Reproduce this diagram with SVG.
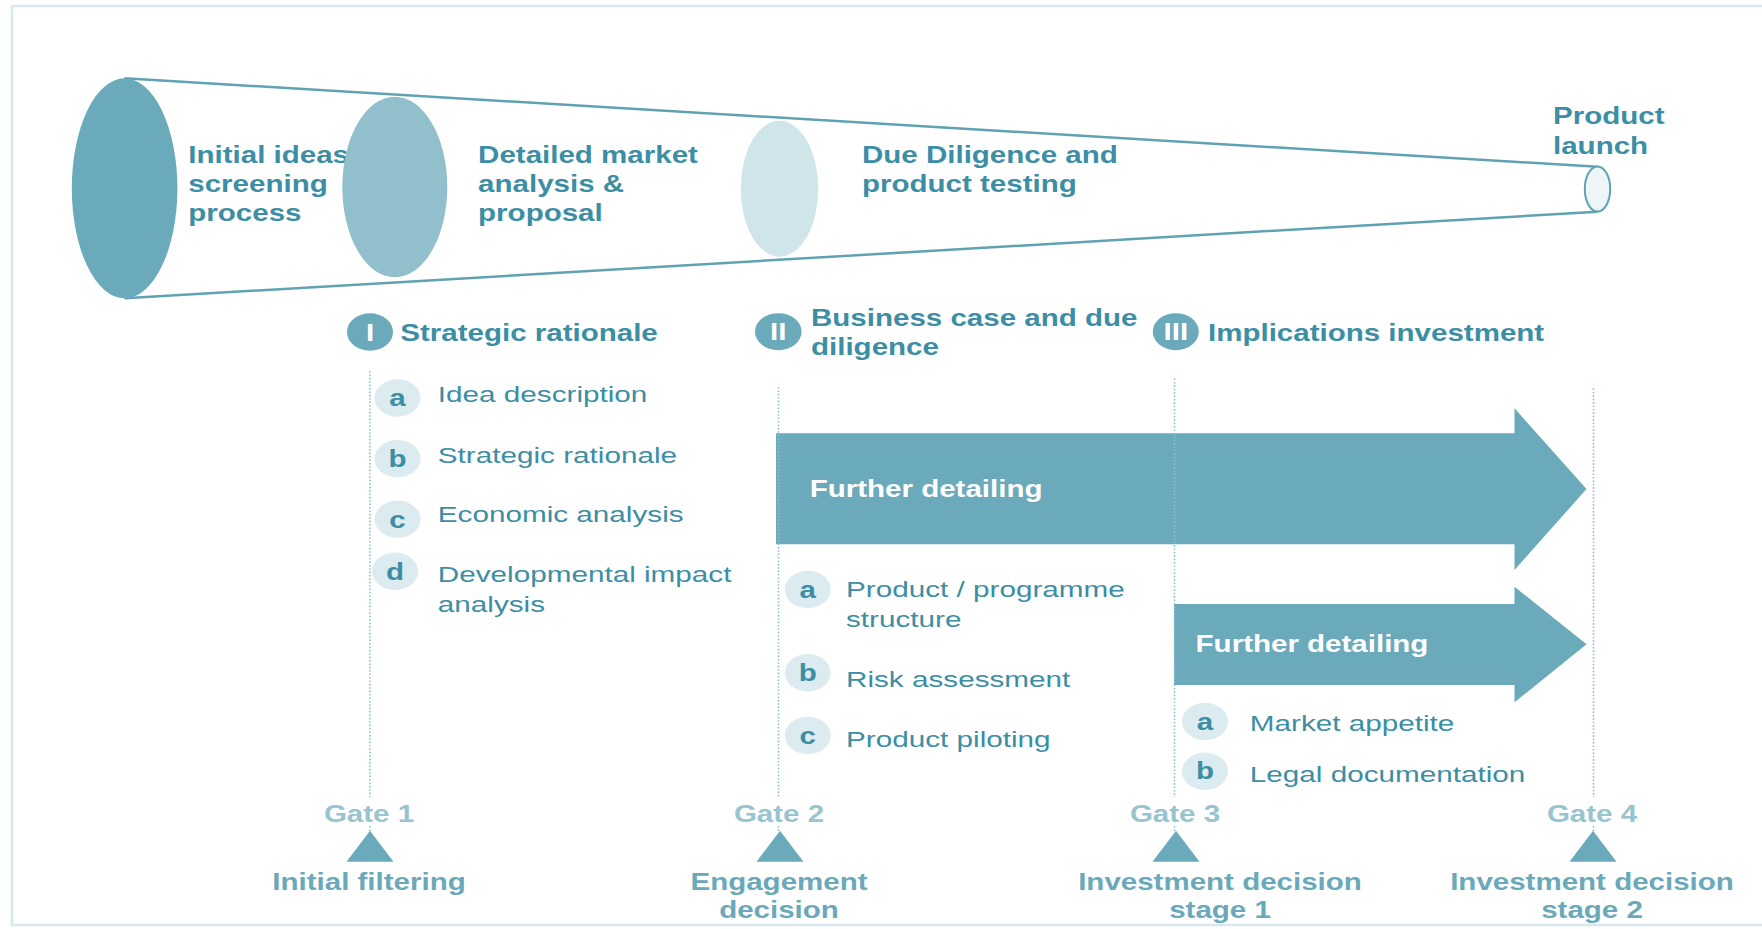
<svg xmlns="http://www.w3.org/2000/svg" width="1762" height="929" viewBox="0 0 1762 929">
  <defs>
    <style>
      .b{font-family:"Liberation Sans",Arial,sans-serif;font-weight:bold;font-size:24px}
      .r{font-family:"Liberation Sans",Arial,sans-serif;font-size:22.5px}
      .mid{text-anchor:middle}
      .teal{fill:#3b8ea4}
      .gate{fill:#97c4cf}
      .dec{fill:#6aa9ba}
      .wht{fill:#ffffff}
      .shape{fill:#6aaabb}
      .chip{fill:#dcebef}
      .guide{stroke:#8fc0cf;stroke-width:1.6;stroke-dasharray:1.6 1.8;fill:none}
      .funnel{stroke:#5fa2b4;stroke-width:2.5;fill:none}
    </style>
  </defs>

  <rect x="0" y="0" width="1762" height="929" fill="#ffffff"/>
  <!-- outer frame, open to the right -->
  <rect x="12" y="6" width="1780" height="919" fill="none" stroke="#d8e8ed" stroke-width="2.5"/>

  <!-- funnel -->
  <g id="funnel">
    <line class="funnel" x1="124.6" y1="78.3" x2="1597.5" y2="166.7"/>
    <line class="funnel" x1="124.6" y1="298.3" x2="1597.5" y2="211.7"/>
    <g id="stage-screening">
      <ellipse cx="124.6" cy="188.3" rx="52.8" ry="110" class="shape"/>
      <text class="b teal" transform="translate(188.3 163.3) scale(1.23 1)"><tspan x="0" y="0">Initial ideas</tspan><tspan x="0" y="28.7">screening</tspan><tspan x="0" y="57.4">process</tspan></text>
    </g>
    <g id="stage-market">
      <ellipse cx="394.8" cy="187" rx="52.5" ry="90.3" fill="#91bfcb"/>
      <text class="b teal" transform="translate(478.1 163.3) scale(1.23 1)"><tspan x="0" y="0">Detailed market</tspan><tspan x="0" y="28.7">analysis &amp;</tspan><tspan x="0" y="57.4">proposal</tspan></text>
    </g>
    <g id="stage-diligence">
      <ellipse cx="779.5" cy="188.7" rx="38.7" ry="68" fill="#d0e5ea"/>
      <text class="b teal" transform="translate(862 163.3) scale(1.23 1)"><tspan x="0" y="0">Due Diligence and</tspan><tspan x="0" y="28.7">product testing</tspan></text>
    </g>
    <g id="stage-launch">
      <ellipse cx="1597.5" cy="189" rx="12.7" ry="22.5" fill="#edf5f7" stroke="#5fa2b4" stroke-width="2"/>
      <text class="b teal" transform="translate(1553 124.4) scale(1.23 1)"><tspan x="0" y="0">Product</tspan><tspan x="0" y="29.6">launch</tspan></text>
    </g>
  </g>

  <!-- progress arrows -->
  <g id="arrow-main">
    <polygon class="shape" points="776,433.3 1514.5,433.3 1514.5,408.3 1586.5,489 1514.5,570 1514.5,544.3 776,544.3"/>
    <text class="b wht" transform="translate(809.7 496.7) scale(1.23 1)">Further detailing</text>
  </g>
  <g id="arrow-second">
    <polygon class="shape" points="1174,604 1514.5,604 1514.5,586.7 1586.5,644.3 1514.5,702.3 1514.5,685 1174,685"/>
    <text class="b wht" transform="translate(1195.6 652.3) scale(1.23 1)">Further detailing</text>
  </g>

  <!-- gate guide lines -->
  <g id="connectors">
    <line class="guide" x1="370" y1="371" x2="370" y2="797"/>
    <line class="guide" x1="370" y1="826" x2="370" y2="831"/>
    <line class="guide" x1="778.5" y1="387" x2="778.5" y2="797"/>
    <line class="guide" x1="778.5" y1="826" x2="778.5" y2="831"/>
    <line class="guide" x1="1174.5" y1="378.5" x2="1174.5" y2="797"/>
    <line class="guide" x1="1174.5" y1="826" x2="1174.5" y2="831"/>
    <line class="guide" x1="1593.5" y1="388.5" x2="1593.5" y2="797"/>
    <line class="guide" x1="1593.5" y1="826" x2="1593.5" y2="831"/>
  </g>

  <!-- phase I -->
  <g id="phase-1">
    <ellipse cx="370" cy="332" rx="23" ry="18.7" class="shape"/>
    <text class="b wht mid" transform="translate(370 340.5) scale(1.23 1)">I</text>
    <text class="b teal" transform="translate(400.3 340.7) scale(1.23 1)">Strategic rationale</text>
  </g>
  <g id="item-1a">
    <ellipse cx="397.5" cy="398" rx="23" ry="18.7" class="chip"/>
    <text class="b teal mid" transform="translate(397.5 406) scale(1.23 1)">a</text>
    <text class="r teal" transform="translate(437.8 401.7) scale(1.32 1)">Idea description</text>
  </g>
  <g id="item-1b">
    <ellipse cx="397.5" cy="458.7" rx="23" ry="18.7" class="chip"/>
    <text class="b teal mid" transform="translate(397.5 466.7) scale(1.23 1)">b</text>
    <text class="r teal" transform="translate(437.8 462.7) scale(1.32 1)">Strategic rationale</text>
  </g>
  <g id="item-1c">
    <ellipse cx="397.5" cy="519.2" rx="23" ry="18.7" class="chip"/>
    <text class="b teal mid" transform="translate(397.5 527.5) scale(1.23 1)">c</text>
    <text class="r teal" transform="translate(437.8 521.7) scale(1.32 1)">Economic analysis</text>
  </g>
  <g id="item-1d">
    <ellipse cx="395" cy="571.3" rx="23" ry="18.7" class="chip"/>
    <text class="b teal mid" transform="translate(395 579.5) scale(1.23 1)">d</text>
    <text class="r teal" transform="translate(437.8 581.7) scale(1.32 1)"><tspan x="0" y="0">Developmental impact</tspan><tspan x="0" y="30">analysis</tspan></text>
  </g>

  <!-- phase II -->
  <g id="phase-2">
    <ellipse cx="778.3" cy="331.7" rx="23.3" ry="18.5" class="shape"/>
    <text class="b wht mid" transform="translate(778.3 340) scale(1.23 1)">II</text>
    <text class="b teal" transform="translate(811 325.7) scale(1.23 1)"><tspan x="0" y="0">Business case and due</tspan><tspan x="0" y="29.3">diligence</tspan></text>
  </g>
  <g id="item-2a">
    <ellipse cx="807.8" cy="589.5" rx="23" ry="18.7" class="chip"/>
    <text class="b teal mid" transform="translate(807.8 597.8) scale(1.23 1)">a</text>
    <text class="r teal" transform="translate(846 597.3) scale(1.32 1)"><tspan x="0" y="0">Product / programme</tspan><tspan x="0" y="30">structure</tspan></text>
  </g>
  <g id="item-2b">
    <ellipse cx="807.8" cy="672.8" rx="23" ry="18.7" class="chip"/>
    <text class="b teal mid" transform="translate(807.8 680.5) scale(1.23 1)">b</text>
    <text class="r teal" transform="translate(846 686.7) scale(1.32 1)">Risk assessment</text>
  </g>
  <g id="item-2c">
    <ellipse cx="807.8" cy="735.5" rx="23" ry="18.7" class="chip"/>
    <text class="b teal mid" transform="translate(807.8 743.5) scale(1.23 1)">c</text>
    <text class="r teal" transform="translate(846 746.7) scale(1.32 1)">Product piloting</text>
  </g>

  <!-- phase III -->
  <g id="phase-3">
    <ellipse cx="1175.8" cy="331.7" rx="23" ry="18.5" class="shape"/>
    <text class="b wht mid" transform="translate(1175.8 340) scale(1.23 1)">III</text>
    <text class="b teal" transform="translate(1208 341) scale(1.23 1)">Implications investment</text>
  </g>
  <g id="item-3a">
    <ellipse cx="1205" cy="721.5" rx="23" ry="18.7" class="chip"/>
    <text class="b teal mid" transform="translate(1205 729.5) scale(1.23 1)">a</text>
    <text class="r teal" transform="translate(1249.8 730.7) scale(1.32 1)">Market appetite</text>
  </g>
  <g id="item-3b">
    <ellipse cx="1205" cy="771.3" rx="23" ry="18.7" class="chip"/>
    <text class="b teal mid" transform="translate(1205 779.3) scale(1.23 1)">b</text>
    <text class="r teal" transform="translate(1249.8 781.7) scale(1.32 1)">Legal documentation</text>
  </g>

  <!-- decision gates -->
  <g id="gate-1">
    <text class="b gate mid" transform="translate(369 822.3) scale(1.23 1)">Gate 1</text>
    <polygon class="shape" points="370,830.7 393.5,861.7 346.5,861.7"/>
    <text class="b dec mid" transform="translate(369 890) scale(1.23 1)">Initial filtering</text>
  </g>
  <g id="gate-2">
    <text class="b gate mid" transform="translate(779 822.3) scale(1.23 1)">Gate 2</text>
    <polygon class="shape" points="780,830.7 803.5,861.7 756.5,861.7"/>
    <text class="b dec mid" transform="translate(779 890) scale(1.23 1)"><tspan x="0" y="0">Engagement</tspan><tspan x="0" y="28.3">decision</tspan></text>
  </g>
  <g id="gate-3">
    <text class="b gate mid" transform="translate(1175 822.3) scale(1.23 1)">Gate 3</text>
    <polygon class="shape" points="1176,830.7 1199.5,861.7 1152.5,861.7"/>
    <text class="b dec mid" transform="translate(1220 890) scale(1.23 1)"><tspan x="0" y="0">Investment decision</tspan><tspan x="0" y="28.3">stage 1</tspan></text>
  </g>
  <g id="gate-4">
    <text class="b gate mid" transform="translate(1592 822.3) scale(1.23 1)">Gate 4</text>
    <polygon class="shape" points="1593,830.7 1616.5,861.7 1569.5,861.7"/>
    <text class="b dec mid" transform="translate(1592 890) scale(1.23 1)"><tspan x="0" y="0">Investment decision</tspan><tspan x="0" y="28.3">stage 2</tspan></text>
  </g>
</svg>
